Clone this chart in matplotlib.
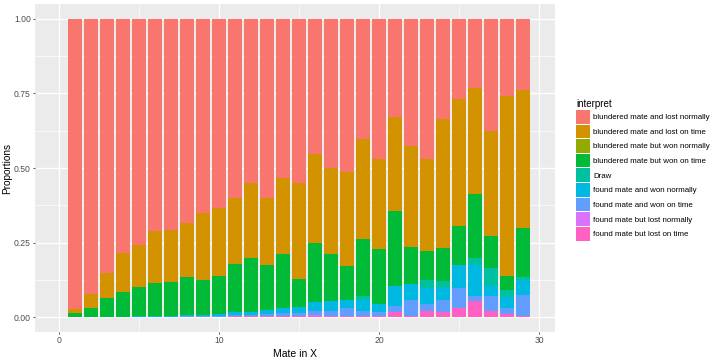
import numpy as np
import matplotlib
matplotlib.use("Agg")
import matplotlib.pyplot as plt
from matplotlib.patches import Patch

plt.rcParams['font.family'] = ['Liberation Sans', 'DejaVu Sans']

# Mate in X (1..29)
mate_in = list(range(1, 30))

# proportions per category
found_lost_time = [0, 0, 0, 0, 0, 0, 0, 0, 0, 0, .002, .003, .003, .002, .005,
                   .005, .004, .003, .004, .003, .018, .005, .020, .018, .030, .053, .020, .009, .004]
found_lost_normal = [0, 0, 0, 0, 0, 0, 0, 0, 0, 0, 0, 0, .001, .002, 0,
                     .003, 0, 0, 0, .001, 0, 0, 0, 0, 0, 0, 0, 0, 0]
found_won_time = [0, 0, 0, 0, 0, 0, 0, .003, .003, .003, .004, .005, .007, .009, .009,
                  .014, .016, .027, .015, .012, .018, .053, .023, .038, .067, .018, .051, .021, .071]
found_won_normal = [0, 0, 0, 0, .002, .003, .004, .005, .005, .008, .012, .010, .014, .019, .020,
                    .028, .033, .026, .039, .028, .069, .054, .054, .043, .077, .103, .034, .037, .048]
draw = [0, 0, 0, 0, 0, 0, 0, 0, 0, 0, 0, 0, 0, 0, 0,
        0, 0, 0, .013, 0, 0, 0, .029, .021, 0, .025, .061, .024, .010]
blund_won_time = [.013, .030, .064, .085, .098, .112, .114, .126, .118, .127, .159, .180, .149, .179, .094,
                  .198, .158, .117, .191, .183, .250, .122, .097, .112, .131, .213, .107, .046, .167]
blund_won_normal = [0] * 29
blund_lost_time = [.013, .047, .085, .129, .143, .173, .174, .181, .222, .227, .224, .253, .227, .256, .323,
                   .300, .289, .312, .336, .302, .316, .339, .306, .432, .426, .356, .350, .604, .461]
blund_lost_normal = [.974, .923, .851, .786, .757, .712, .708, .685, .652, .635, .599, .549, .599, .532, .549,
                     .452, .500, .515, .402, .471, .329, .427, .471, .336, .269, .232, .377, .259, .239]

labels = ["blundered mate and lost normally", "blundered mate and lost on time",
          "blundered mate but won normally", "blundered mate but won on time", "Draw",
          "found mate and won normally", "found mate and won on time",
          "found mate but lost normally", "found mate but lost on time"]
colors = ["#F8766D", "#D39200", "#93AA00", "#00BA38", "#00C19F",
          "#00B9E3", "#619CFF", "#DB72FB", "#FF61C3"]
series = [blund_lost_normal, blund_lost_time, blund_won_normal, blund_won_time, draw,
          found_won_normal, found_won_time, found_lost_normal, found_lost_time]

vals = np.array(series, dtype=float)
vals = vals / vals.sum(axis=0)   # position = "fill"

fig = plt.figure(figsize=(7.2, 3.6), dpi=100)
ax = fig.add_axes([35 / 720, 1 - 332 / 360, 520 / 720, 328 / 360])
ax.set_facecolor("#EBEBEB")

bottom = np.zeros(len(mate_in))
for i in range(len(series) - 1, -1, -1):
    ax.bar(mate_in, vals[i], width=0.9, bottom=bottom, color=colors[i], linewidth=0, zorder=3)
    bottom += vals[i]

ax.set_xlim(-1.5, 31)
ax.set_ylim(-0.05, 1.05)
ax.set_xticks([0, 10, 20, 30])
ax.set_xticks([5, 15, 25], minor=True)
ax.set_yticks([0, 0.25, 0.5, 0.75, 1.0])
ax.set_yticklabels(["0.00", "0.25", "0.50", "0.75", "1.00"])
ax.set_yticks([0.125, 0.375, 0.625, 0.875], minor=True)
ax.grid(which="major", color="white", linewidth=1.0, zorder=0)
ax.grid(which="minor", color="white", linewidth=0.5, zorder=0)
for s in ax.spines.values():
    s.set_visible(False)
ax.tick_params(which="major", length=1.6, width=0.6, color="#333333", labelsize=6.2, labelcolor="#4D4D4D", pad=1.4)
ax.tick_params(which="minor", length=0)
ax.set_xlabel("Mate in X", fontsize=7.5, labelpad=3)
ax.set_ylabel("Proportions", fontsize=7.2)
ax.yaxis.set_label_coords(-23 / 520, 0.5)

handles = [Patch(facecolor=c, edgecolor="none") for c in colors]
leg = fig.legend(handles, labels, loc="upper left", bbox_to_anchor=(576 / 720, 1 - 99 / 360),
                 frameon=False, fontsize=5.7, title="interpret", title_fontsize=7,
                 handlelength=1.8, handleheight=2.28, labelspacing=0.12, handletextpad=0.4,
                 borderaxespad=0, borderpad=0)
leg._legend_box.align = "left"

fig.savefig("out.png", dpi=100)
